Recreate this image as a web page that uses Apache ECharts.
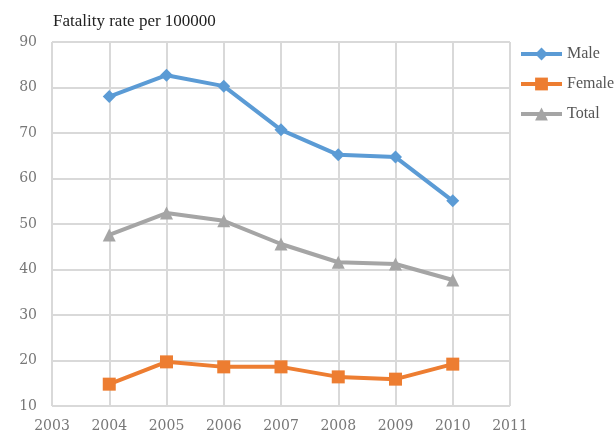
<!DOCTYPE html>
<html>
<head>
<meta charset="utf-8">
<script src="https://cdn.jsdelivr.net/npm/echarts@6/dist/echarts.min.js"></script>
<style>
  html, body { margin: 0; padding: 0; background: #fff; }
  #chart { width: 616px; height: 437px; }
</style>
</head>
<body>
<div id="chart"></div>
<script>
var years = [2004, 2005, 2006, 2007, 2008, 2009, 2010];
var male = [78.0, 82.7, 80.3, 70.7, 65.2, 64.7, 55.1];
var female = [14.8, 19.7, 18.6, 18.6, 16.4, 15.9, 19.2];
var total = [47.6, 52.4, 50.7, 45.6, 41.6, 41.2, 37.7];

var font = 'Liberation Serif';
var axisFont = 'DejaVu Serif';

function pairs(vals) {
  return years.map(function (y, i) { return [y, vals[i]]; });
}

function line(name, vals, color, symbol, size) {
  return {
    name: name,
    type: 'line',
    data: pairs(vals),
    symbol: symbol,
    symbolSize: size,
    lineStyle: { color: color, width: 4 },
    itemStyle: { color: color },
    animation: false
  };
}

var chart = echarts.init(document.getElementById('chart'));
chart.setOption({
  backgroundColor: '#fff',
  title: {
    text: 'Fatality rate per 100000',
    left: 48, top: 8,
    textStyle: { fontFamily: font, fontSize: 17, fontWeight: 'normal', color: '#222' }
  },
  legend: {
    orient: 'vertical',
    left: 514, top: 41,
    itemWidth: 41, itemHeight: 16,
    itemGap: 14,
    lineStyle: { width: 4 },
    textStyle: { fontFamily: font, fontSize: 16, color: '#555' },
    data: ['Male', 'Female', 'Total']
  },
  grid: { left: 52, right: 106, top: 42, bottom: 31 },
  xAxis: {
    type: 'value',
    min: 2003, max: 2011, interval: 1,
    axisLine: { show: false },
    axisTick: { show: false },
    splitLine: { show: true, lineStyle: { color: '#d9d9d9', width: 2 } },
    axisLabel: {
      fontFamily: axisFont, fontSize: 14, color: '#777', margin: 13,
      formatter: function (v) { return String(v); }
    }
  },
  yAxis: {
    type: 'value',
    min: 10, max: 90, interval: 10,
    axisLine: { show: false },
    axisTick: { show: false },
    splitLine: { show: true, lineStyle: { color: '#d9d9d9', width: 2 } },
    axisLabel: { fontFamily: axisFont, fontSize: 14, color: '#777', margin: 15 }
  },
  series: [
    line('Male', male, '#5b9bd5', 'diamond', 13),
    line('Female', female, '#ed7d31', 'rect', 13),
    line('Total', total, '#a5a5a5', 'triangle', 13)
  ]
});
</script>
</body>
</html>
